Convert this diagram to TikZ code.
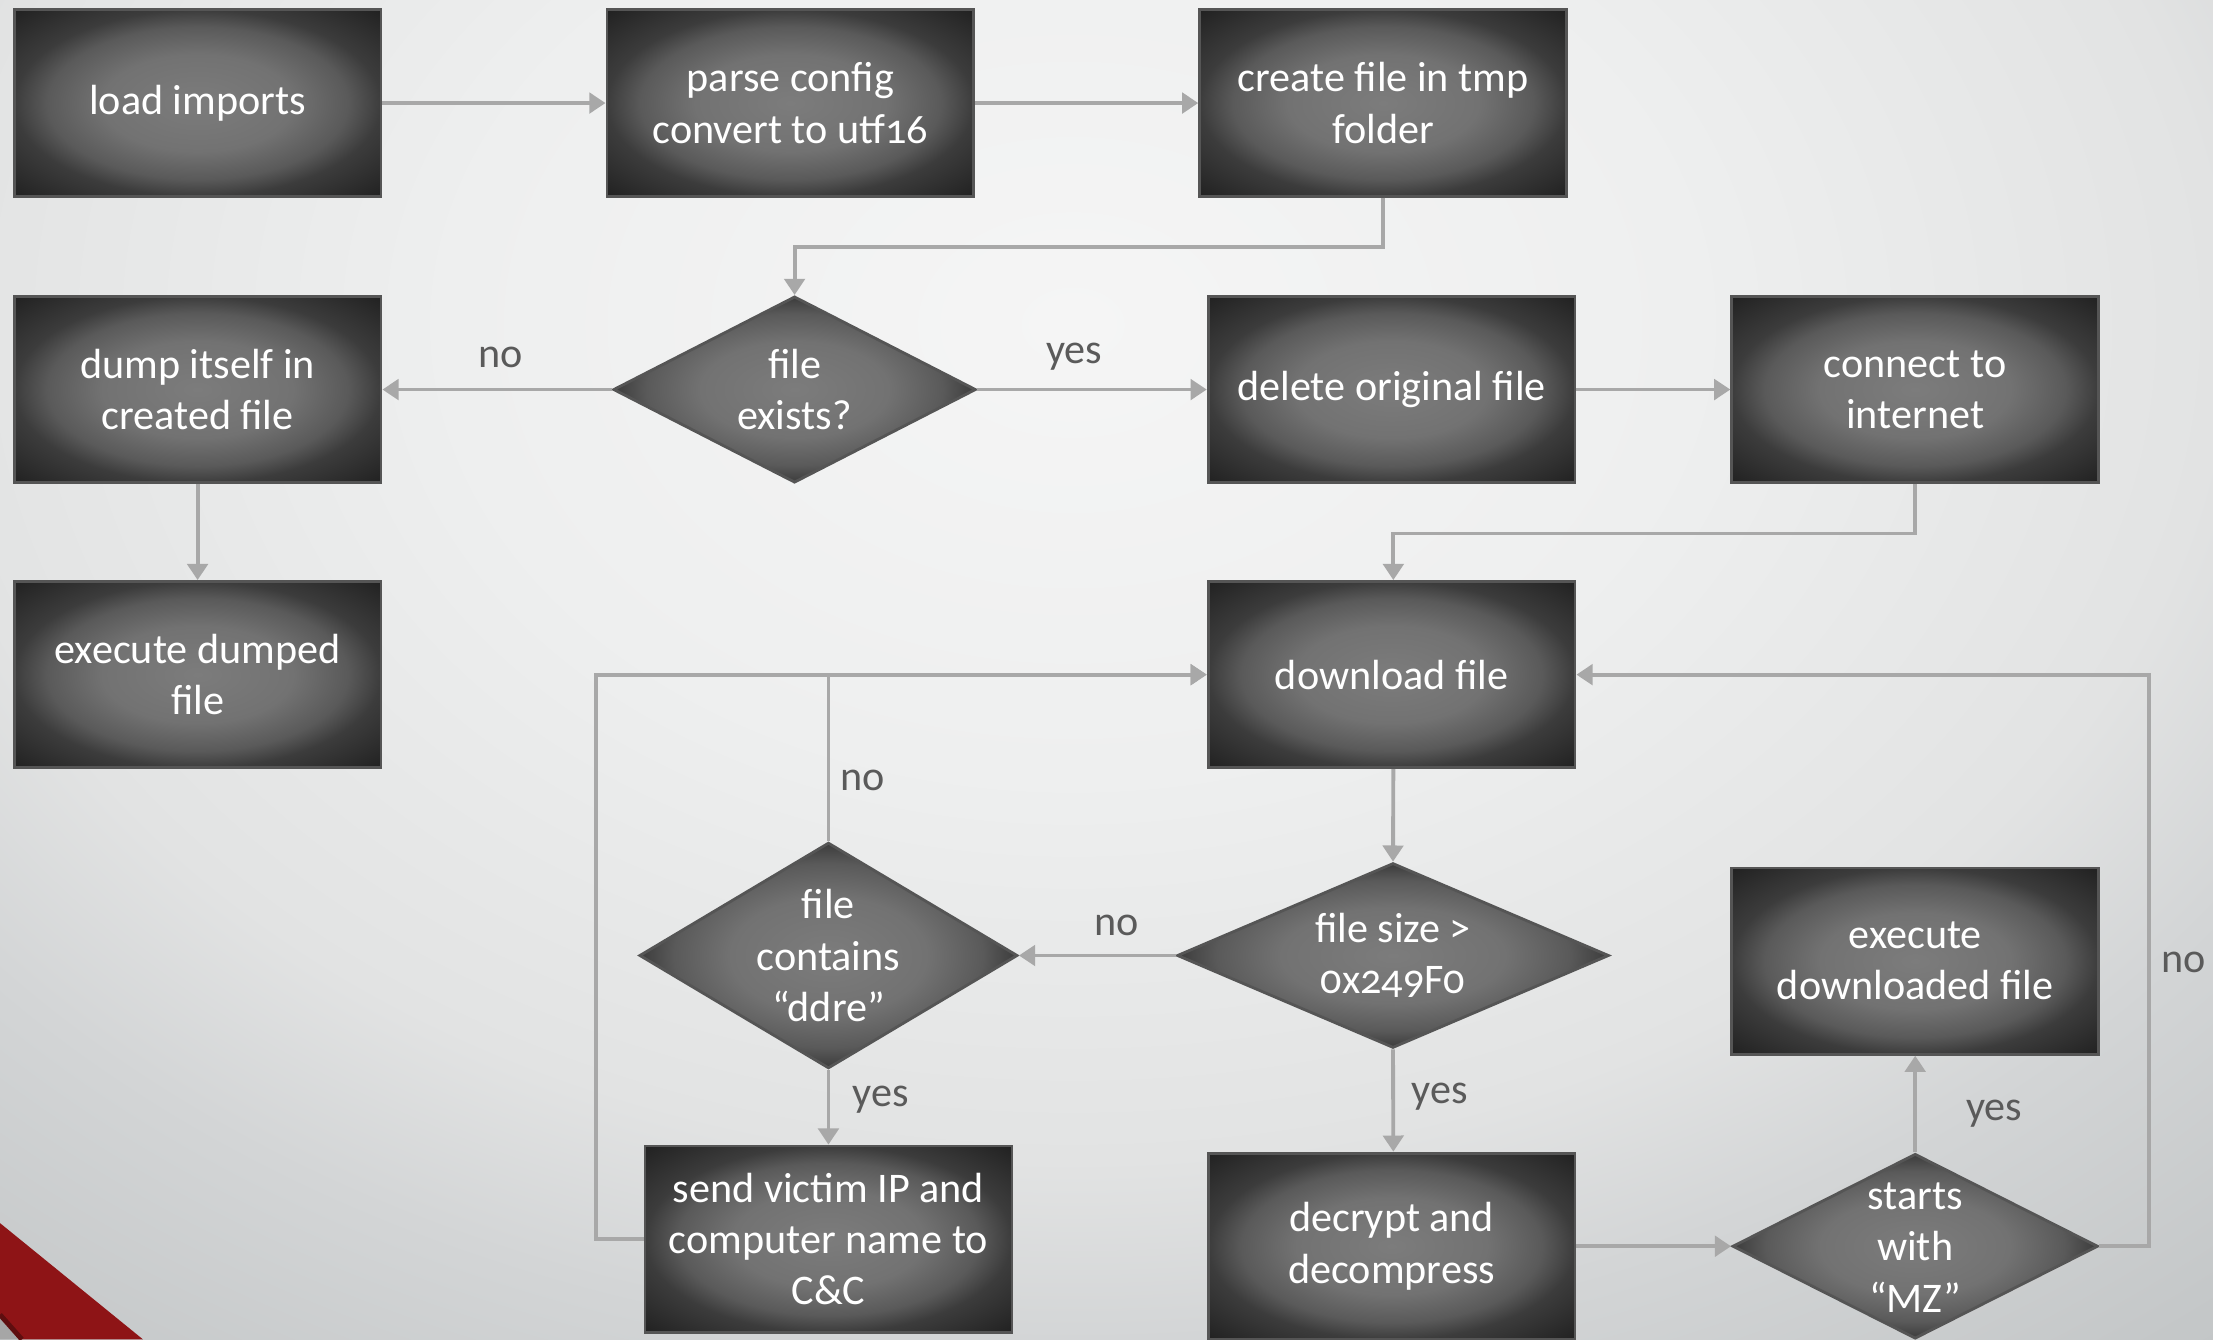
\documentclass[tikz,border=0pt]{standalone}
\usepackage{fontspec}
\setmainfont{Carlito}[Numbers=OldStyle]
\usetikzlibrary{arrows.meta,shapes.geometric}
\definecolor{lnc}{HTML}{A8A8A8}
\definecolor{lbl}{HTML}{5A5A5A}
\definecolor{bxA}{HTML}{7C7C7C}
\definecolor{bxB}{HTML}{727272}
\definecolor{bxC}{HTML}{3C3C3C}
\definecolor{bxD}{HTML}{222222}
\definecolor{bxE}{HTML}{555555}
\definecolor{bgA}{HTML}{F5F5F5}
\definecolor{bgB}{HTML}{EEEFEF}
\definecolor{bgC}{HTML}{E2E3E3}
\definecolor{bgD}{HTML}{D3D5D6}
\definecolor{bgE}{HTML}{C4C7C8}
\definecolor{bgF}{HTML}{BCBFC0}
\definecolor{redc}{HTML}{8E1416}
\definecolor{redd}{HTML}{5E0E0F}
\pgfdeclareradialshading{boxsh}{\pgfpoint{0bp}{0bp}}{color(0bp)=(bxA); color(13bp)=(bxB); color(20.5bp)=(bxB!55!bxC); color(25bp)=(bxC); color(35bp)=(bxD); color(50bp)=(bxD)}
\pgfdeclareradialshading{bgsh}{\pgfpoint{0bp}{0bp}}{color(0bp)=(bgA); color(10bp)=(bgB); color(18.5bp)=(bgC); color(22.5bp)=(bgD); color(28.5bp)=(bgE); color(35bp)=(bgF); color(50bp)=(bgF)}
\tikzset{
  box/.style={rectangle, draw=bxE, line width=0.8pt, shading=boxsh,
    minimum width=3.669cm, minimum height=1.863cm, inner sep=0pt,
    text=white, align=center, font=\fontsize{12}{14.6}\selectfont},
  dia/.style={diamond, draw=bxE, line width=0.8pt, shading=boxsh, inner sep=0pt},
  dtxt/.style={text=white, align=center, font=\fontsize{12}{14.6}\selectfont},
  arr/.style={draw=lnc, line width=1.1pt, -{Triangle[length=4.6pt,width=5.8pt]}},
  lab/.style={text=lbl, font=\fontsize{12}{14}\selectfont}
}
\begin{document}
\begin{tikzpicture}[x=0.014113cm, y=-0.014113cm]
\useasboundingbox (0,0) rectangle (1568,949);
% background
\begin{scope}
\clip (0,0) rectangle (1568,949);
\fill[bgE] (0,0) rectangle (1568,949);
\shade[shading=bgsh] (-340,-570) rectangle (1860,1030);
\fill[redc] (0,866.6) -- (101.3,949) -- (15,949) -- (0,932) -- cycle;
\fill[gray!70] (0,934) -- (13,949) -- (0,949) -- cycle;
\draw[redd, line width=1.4pt] (0,931.5) -- (15.5,949);
\end{scope}

% nodes
\node[box] (load) at (140,73) {load imports};
\node[box] (parse) at (560,73) {parse config\\convert to utf16};
\node[box] (create) at (980,73) {create file in tmp\\folder};

\node[box] (dump) at (140,276) {dump itself in\\created file};
\node[dia, minimum width=3.627cm, minimum height=1.863cm] (fe) at (563,276) {};
\node[dtxt] (fetxt) at (563,276) {file\\exists?};
\node[box] (delete) at (986,276) {delete original file};
\node[box] (connect) at (1357,276) {connect to\\internet};

\node[box] (exedump) at (140,478) {execute dumped\\file};
\node[box] (download) at (986,478) {download file};

\node[dia, minimum width=3.782cm, minimum height=2.258cm] (fc) at (587,677) {};
\node[dtxt] (fctxt) at (587,677) {file\\contains\\“ddre”};
\node[dia, minimum width=4.319cm, minimum height=1.849cm] (fs) at (987,677) {};
\node[dtxt] (fstxt) at (987,677) {file size >\\0x249F0};
\node[box] (exedl) at (1357,681) {execute\\downloaded file};

\node[box] (send) at (587,878) {send victim IP and\\computer name to\\C\&C};
\node[box] (decrypt) at (986,883) {decrypt and\\decompress};
\node[dia, minimum width=3.655cm, minimum height=1.849cm] (mz) at (1357,883) {};
\node[dtxt] (mztxt) at (1357,884) {starts\\with\\“MZ”};

% connectors
\draw[arr] (load.east) -- (parse.west);
\draw[arr] (parse.east) -- (create.west);
\draw[arr] (create.south) -- ++(0,35) -| (fe.north);
\draw[arr] (fe.west) -- (dump.east);
\draw[arr] (fe.east) -- (delete.west);
\draw[arr] (delete.east) -- (connect.west);
\draw[arr] (connect.south) -- ++(0,35) -| ([xshift=0.5]download.north);
\draw[arr] (dump.south) -- (exedump.north);
\draw[arr] ([xshift=0.5]download.south) -- (fs.north);
\draw[arr] (fs.west) -- (fc.east);
\draw[arr] (fs.south) -- ([xshift=0.5]decrypt.north);
\draw[arr] (fc.north) |- (download.west);
\draw[arr] (fc.south) -- (send.north);
\draw[arr] (send.west) -- ++(-34,0) |- (download.west);
\draw[arr] (decrypt.east) -- (mz.west);
\draw[arr] (mz.north) -- (exedl.south);
\draw[arr] (mz.east) -- ++(35,0) |- (download.east);

% labels
\node[lab] (l1) at (355,253) {no};
\node[lab] (l2) at (761,253) {yes};
\node[lab] (l3) at (611,553) {no};
\node[lab] (l4) at (791,656) {no};
\node[lab] (l5) at (624,779) {yes};
\node[lab] (l6) at (1020,777) {yes};
\node[lab] (l7) at (1413,789) {yes};
\node[lab] (l8) at (1547,682) {no};
\end{tikzpicture}
\end{document}
